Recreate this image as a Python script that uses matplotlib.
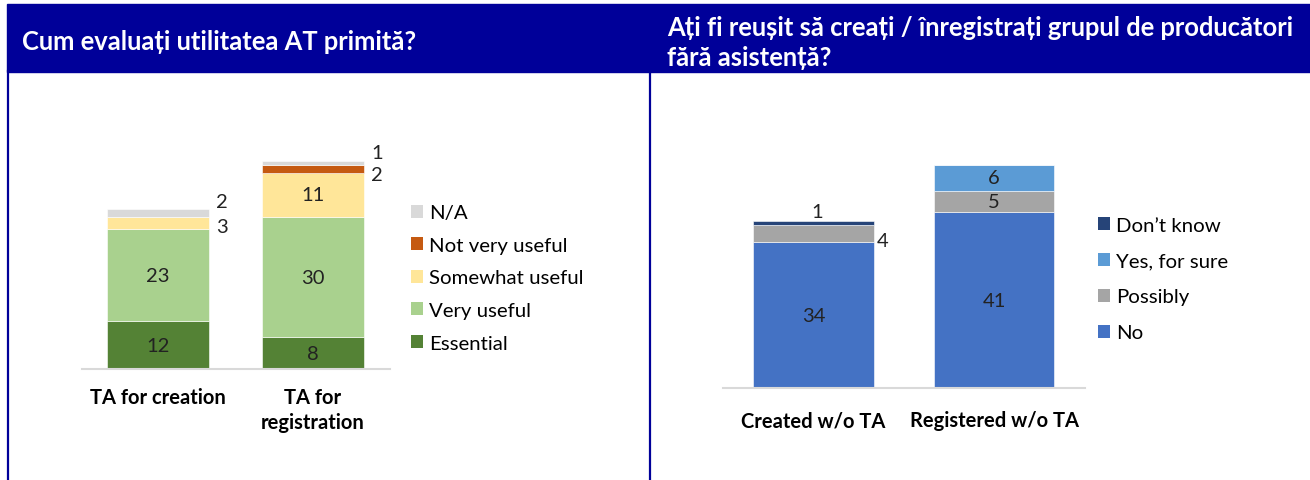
import matplotlib.pyplot as plt
from matplotlib.patches import Rectangle, Patch
from matplotlib.lines import Line2D

plt.rcParams['font.family'] = ['Lato', 'DejaVu Sans']

# left chart data
cats_left = ['TA for creation', 'TA for\nregistration']
left_names = ['Essential', 'Very useful', 'Somewhat useful', 'Not very useful', 'N/A']
left_vals = [[12, 8], [23, 30], [3, 11], [0, 2], [2, 1]]
left_cols = ['#548235', '#A9D18E', '#FFE699', '#C55A11', '#D9D9D9']

# right chart data
cats_right = ['Created w/o TA', 'Registered w/o TA']
right_names = ['No', 'Possibly', 'Yes, for sure', 'Don\u2019t know']
right_vals = [[34, 41], [4, 5], [0, 6], [1, 0]]
right_cols = ['#4472C4', '#A5A5A5', '#5B9BD5', '#264478']

title_left = 'Cum evaluați utilitatea AT primită?'
title_right = 'Ați fi reușit să creați / înregistrați grupul de producători\nfără asistență?'

W, H = 1310, 481
navy = '#000099'
PX = 0.72  # points per pixel at dpi 100

fig = plt.figure(figsize=(W / 100, H / 100), dpi=100)


def box(x0, y0, x1, y1):
    # pixel box (top-left origin) -> figure fraction rect
    return [x0 / W, 1 - y1 / H, (x1 - x0) / W, (y1 - y0) / H]


# header band and frame lines
fig.patches.append(Rectangle((7 / W, 1 - 73 / H), (W - 7) / W, 68 / H,
                             transform=fig.transFigure, color=navy, zorder=0))
for xp in [8, 650]:
    fig.add_artist(Line2D([xp / W, xp / W], [0, 1 - 72 / H], color=navy, lw=1.6,
                          transform=fig.transFigure))
fig.text(22 / W, 1 - 42 / H, title_left, color='white', fontsize=18.4,
         fontweight='bold', va='center', ha='left')
fig.text(667 / W, 1 - 43 / H, title_right, color='white', fontsize=18.4,
         fontweight='bold', va='center', ha='left', linespacing=1.3)


def stacked(ax, vals, cols, names, width):
    xs = [0, 1]
    bottoms = [0, 0]
    handles = []
    for v, c, n in zip(vals, cols, names):
        ax.bar(xs, v, width, bottom=bottoms, color=c, edgecolor='white', linewidth=0.4)
        handles.append(Patch(facecolor=c, label=n))
        bottoms = [b + vv for b, vv in zip(bottoms, v)]
    return handles


def setup(ax, cats, xlim, ylim, pad):
    ax.set_xlim(*xlim)
    ax.set_ylim(*ylim)
    for s in ['top', 'left', 'right']:
        ax.spines[s].set_visible(False)
    ax.spines['bottom'].set_color('#D9D9D9')
    ax.spines['bottom'].set_linewidth(1.5)
    ax.set_yticks([])
    ax.set_xticks([0, 1])
    ax.set_xticklabels(cats, fontsize=14.5, fontweight='bold', linespacing=1.3)
    ax.tick_params(axis='x', length=0, pad=pad)
    ax.patch.set_alpha(0)


# ---- left chart
ax1 = fig.add_axes(box(82, 100, 390, 370))
h1 = stacked(ax1, left_vals, left_cols, left_names, 0.66)
setup(ax1, cats_left, (-0.49, 1.50), (0, 67.5), 13)

# inside labels
for i in range(2):
    base = 0
    for k, v in enumerate(left_vals):
        if v[i] >= 8:
            ax1.text(i, base + v[i] / 2, str(v[i]), ha='center', va='center',
                     fontsize=14.5, color='#222222')
        base += v[i]

# outside labels (series index, bar, dy in px, positive = up)
outside_left = [(2, 0, -3.5), (4, 0, 11), (3, 1, -5.5), (4, 1, 10.5)]
for k, i, dy in outside_left:
    base = sum(left_vals[j][i] for j in range(k))
    ax1.annotate(str(left_vals[k][i]), (i + 0.33, base + left_vals[k][i] / 2),
                 xytext=(13 * PX, dy * PX), textcoords='offset points',
                 ha='center', va='center', fontsize=14.5, color='#222222')

fig.legend(handles=h1[::-1], loc='center left', bbox_to_anchor=(411 / W, 1 - 279 / H),
           frameon=False, fontsize=14.7, handlelength=0.6, handleheight=0.6,
           handletextpad=0.3, labelspacing=0.76, borderpad=0, borderaxespad=0)

# ---- right chart
ax2 = fig.add_axes(box(723, 100, 1085, 389))
h2 = stacked(ax2, right_vals, right_cols, right_names, 0.67)
setup(ax2, cats_right, (-0.501, 1.504), (0, 67.4), 16)

for i in range(2):
    base = 0
    for k, v in enumerate(right_vals):
        if v[i] >= 5:
            ax2.text(i, base + v[i] / 2, str(v[i]), ha='center', va='center',
                     fontsize=14.5, color='#222222')
        base += v[i]

# small ones: "4" right of bar, "1" above bar
k, i = 1, 0
base = right_vals[0][i]
ax2.annotate(str(right_vals[k][i]), (i + 0.335, base + right_vals[k][i] / 2),
             xytext=(9 * PX, -6.5 * PX), textcoords='offset points',
             ha='center', va='center', fontsize=14.5, color='#222222')
k = 3
base = sum(right_vals[j][i] for j in range(3))
ax2.annotate(str(right_vals[k][i]), (i, base + right_vals[k][i] / 2),
             xytext=(4 * PX, 11 * PX), textcoords='offset points',
             ha='center', va='center', fontsize=14.5, color='#222222')

fig.legend(handles=h2[::-1], loc='center left', bbox_to_anchor=(1098 / W, 1 - 280 / H),
           frameon=False, fontsize=14.7, handlelength=0.6, handleheight=0.6,
           handletextpad=0.3, labelspacing=0.93, borderpad=0, borderaxespad=0)

fig.savefig('out.png', dpi=100)
